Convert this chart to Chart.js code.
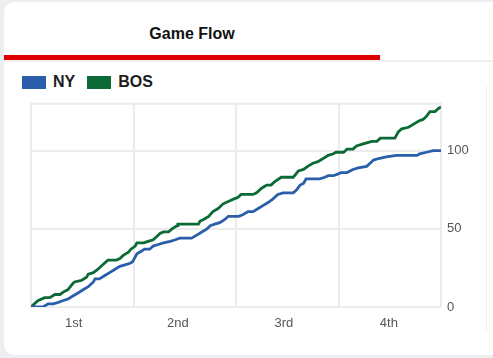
<!DOCTYPE html>
<html lang="en">
<head>
    <meta charset="UTF-8">
    <title>Game Flow</title>
    <script src="https://cdn.jsdelivr.net/npm/chart.js"></script>
    <style>
        body {
            margin: 0;
            width: 493px;
            height: 358px;
            overflow: hidden;
            background: #eceef0;
            font-family: "Liberation Sans", Arial, sans-serif;
        }

        .card {
            position: absolute;
            left: 4px;
            top: 2px;
            width: 620px;
            height: 353px;
            background: white;
            border-radius: 10px;
        }

        .tab-title {
            position: absolute;
            left: 0;
            top: 23px;
            width: 376px;
            text-align: center;
            font-size: 16px;
            font-weight: bold;
            color: #111;
        }

        .tab-line {
            position: absolute;
            left: 0;
            top: 58px;
            width: 620px;
            height: 2px;
            background: #efefef;
        }

        .tab-active {
            position: absolute;
            left: 0;
            top: 53px;
            width: 376px;
            height: 5px;
            background: #de0000;
        }

        .side-line {
            position: absolute;
            left: 486px;
            top: 86px;
            width: 1px;
            height: 246px;
            background: #efefef;
        }

        .legend {
            position: absolute;
            left: 22px;
            top: 73px;
            display: flex;
            align-items: center;
            font-size: 16px;
            font-weight: bold;
            color: #1d1d1d;
        }

        .legend-item {
            display: flex;
            align-items: center;
            margin-right: 12px;
        }

        .legend-box {
            width: 24px;
            height: 13px;
            margin-right: 7px;
        }

        .chart-wrap {
            position: absolute;
            left: 0;
            top: 90px;
            width: 493px;
            height: 247px;
        }
    </style>
</head>
<body>
    <div class="card">
        <div class="tab-title">Game Flow</div>
        <div class="tab-line"></div>
        <div class="tab-active"></div>
    </div>
    <div class="side-line"></div>
    <div class="legend" id="legend"></div>
    <div class="chart-wrap">
        <canvas id="flowChart"></canvas>
    </div>

    <script>
        // game clock in minutes (0-48) and running score
        const nyMinutes = [0, 1.4, 2.0, 2.6, 3.2, 3.7, 4.3, 4.9, 5.5, 6.1, 6.7, 7.3, 7.5, 8.0, 8.6, 9.2, 9.8, 10.4, 11.0, 11.6, 11.9, 12.0, 12.4, 13.0, 13.3, 13.9, 14.3, 14.9, 15.5, 16.3, 16.9, 17.4, 18.8, 19.4, 20.0, 20.6, 21.0, 21.5, 22.1, 22.7, 23.1, 24.3, 24.8, 25.4, 26.0, 26.6, 27.2, 27.8, 28.3, 28.9, 29.5, 30.7, 31.1, 31.5, 31.9, 32.2, 33.8, 34.4, 34.8, 35.4, 35.9, 36.3, 37.0, 37.7, 38.3, 39.3, 39.7, 40.1, 40.7, 41.6, 42.8, 45.2, 45.5, 46.3, 47.1, 48.0];
        const nyScores  = [0, 0, 2, 2, 3, 4, 5, 7, 9, 11, 13, 16, 18, 18, 20, 22, 24, 26, 27, 28, 29, 30, 34, 36, 37, 37, 39, 40, 41, 42, 43, 44, 44, 46, 48, 50, 52, 53, 54, 56, 58, 58, 59, 61, 61, 63, 65, 67, 69, 72, 73, 73, 75, 78, 79, 82, 82, 83, 84, 84, 85, 86, 86, 88, 89, 90, 92, 94, 95, 96, 97, 97, 98, 99, 100, 100];

        const bosMinutes = [0, 0.8, 1.6, 2.2, 2.8, 3.4, 3.9, 4.3, 4.9, 5.1, 5.9, 6.5, 6.7, 7.3, 7.8, 8.4, 9.0, 10.0, 10.4, 10.8, 11.4, 11.7, 12.2, 12.4, 13.2, 13.7, 14.3, 14.7, 15.1, 15.5, 16.1, 16.5, 17.1, 17.2, 19.6, 19.8, 20.2, 20.8, 21.3, 21.9, 22.5, 22.9, 23.3, 23.7, 24.2, 24.6, 26.0, 26.4, 27.0, 27.6, 28.1, 28.5, 29.3, 30.7, 31.3, 31.9, 32.4, 33.0, 33.6, 34.2, 34.8, 35.4, 35.7, 36.6, 37.0, 37.7, 38.1, 38.7, 39.3, 39.9, 40.5, 40.9, 42.6, 43.0, 43.4, 44.2, 44.8, 45.4, 45.9, 46.3, 46.7, 47.3, 47.7, 48.0];
        const bosScores  = [0, 4, 6, 6, 8, 8, 10, 11, 15, 16, 17, 19, 21, 22, 24, 27, 30, 30, 31, 33, 35, 37, 39, 41, 41, 42, 43, 45, 47, 48, 48, 50, 52, 53, 53, 55, 56, 58, 61, 63, 66, 67, 68, 69, 70, 72, 72, 73, 76, 78, 78, 80, 83, 83, 87, 88, 90, 92, 93, 95, 97, 98, 99, 99, 101, 101, 103, 104, 105, 106, 106, 108, 108, 112, 114, 115, 117, 119, 120, 122, 125, 125, 127, 128];

        const teamNames = ['NY', 'BOS'];
        const teamColors = ['#2a5eab', '#0b6a36'];

        const quarterLabels = ['1st', '2nd', '3rd', '4th'];
        const quarterLabelAt = [5.0, 17.2, 29.6, 41.9];
        const quarterEnds = [12, 24, 36];
        const yTicks = [0, 50, 100];

        const toPoints = (xs, ys) => xs.map((x, i) => ({ x: x, y: ys[i] }));

        const gridColor = '#ececec';
        const tickFont = { family: '"Liberation Sans", Arial, sans-serif', size: 13 };

        // legend built from the same team arrays
        document.getElementById('legend').innerHTML = teamNames.map((name, i) => `
            <div class="legend-item">
                <div class="legend-box" style="background:${teamColors[i]}"></div>${name}
            </div>
        `).join('');

        // light frame round the plot area
        const frame = {
            id: 'frame',
            beforeDatasetsDraw(chart) {
                const a = chart.chartArea;
                const ctx = chart.ctx;
                ctx.save();
                ctx.strokeStyle = gridColor;
                ctx.lineWidth = 2;
                ctx.strokeRect(a.left, a.top, a.right - a.left, a.bottom - a.top);
                ctx.restore();
            }
        };

        new Chart(document.getElementById('flowChart'), {
            type: 'line',
            data: {
                datasets: [{
                    label: teamNames[0],
                    data: toPoints(nyMinutes, nyScores),
                    borderColor: teamColors[0],
                    borderWidth: 2.8,
                    pointRadius: 0,
                    tension: 0
                }, {
                    label: teamNames[1],
                    data: toPoints(bosMinutes, bosScores),
                    borderColor: teamColors[1],
                    borderWidth: 2.8,
                    pointRadius: 0,
                    tension: 0
                }]
            },
            options: {
                responsive: true,
                maintainAspectRatio: false,
                animation: false,
                layout: { padding: { left: 31, top: 9, right: 0, bottom: 0 } },
                plugins: {
                    legend: { display: false },
                    tooltip: { enabled: false }
                },
                scales: {
                    x: {
                        type: 'linear',
                        min: 0,
                        max: 48,
                        afterBuildTicks: axis => {
                            axis.ticks = quarterEnds.concat(quarterLabelAt).map(v => ({ value: v }));
                        },
                        afterFit: axis => { axis.height = 30; },
                        grid: {
                            color: ctx => quarterEnds.includes(ctx.tick && ctx.tick.value) ? gridColor : 'rgba(0,0,0,0)',
                            lineWidth: 2,
                            drawTicks: false
                        },
                        border: { display: false },
                        ticks: {
                            autoSkip: false,
                            maxRotation: 0,
                            padding: 9,
                            color: '#555',
                            font: tickFont,
                            callback: value => {
                                const i = quarterLabelAt.indexOf(value);
                                return i >= 0 ? quarterLabels[i] : '';
                            }
                        }
                    },
                    y: {
                        position: 'right',
                        min: 0,
                        max: 130,
                        afterBuildTicks: axis => {
                            axis.ticks = yTicks.map(v => ({ value: v }));
                        },
                        afterFit: axis => { axis.width = 52; },
                        grid: {
                            color: gridColor,
                            lineWidth: 2,
                            drawTicks: false
                        },
                        border: { display: false },
                        ticks: {
                            padding: 6,
                            color: '#555',
                            font: tickFont
                        }
                    }
                }
            },
            plugins: [frame]
        });
    </script>
</body>
</html>
